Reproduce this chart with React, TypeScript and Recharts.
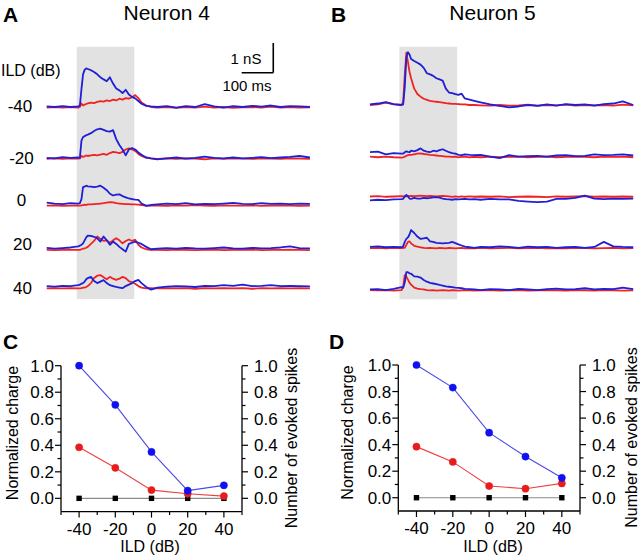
import React from 'react';
import { LineChart, Line, XAxis, YAxis, ReferenceArea, ReferenceLine } from 'recharts';

const FONT = '"Liberation Sans", Arial, Helvetica, sans-serif';
const TRACE_BLUE = '#1f1fd8';
const TRACE_RED = '#f02222';
const PT_BLUE = '#1010f0';
const LN_BLUE = '#4a4ae6';
const PT_RED = '#e81c1c';
const LN_RED = '#ee4040';

// ---- Time base of the conductance traces (ms) ----
const timeMs = [0, 25, 50, 75, 100, 105, 110, 115, 120, 125, 130, 140, 150, 160, 170, 180, 190, 200, 210, 220, 230, 240, 250, 260, 270, 280, 290, 300, 315, 330, 350, 380, 410, 440, 470, 500, 530, 560, 590, 620, 650, 680, 710, 740, 770, 800, 833];
const ildLevels = [-40, -20, 0, 20, 40];
const ildLabels = ['-40', '-20', '0', '20', '40'];

// ---- Neuron 4 traces (nS) ----
const n4BlueM40 = [0.02, 0.0, 0.03, 0.0, 0.02, 0.05, 0.6, 1.1, 1.25, 1.3, 1.28, 1.24, 1.18, 1.1, 1.0, 0.93, 0.87, 1.0, 0.79, 0.62, 0.56, 0.47, 0.58, 0.42, 0.34, 0.29, 0.2, 0.11, 0.04, 0.02, 0.0, 0.03, -0.02, 0.03, 0.0, 0.1, 0.02, -0.02, 0.03, 0.0, 0.04, 0.01, 0.05, 0.0, 0.03, 0.02, 0.0];
const n4RedM40 = [-0.02, 0.0, -0.02, 0.0, -0.02, 0.0, 0.12, 0.05, 0.08, 0.1, 0.12, 0.15, 0.13, 0.17, 0.2, 0.18, 0.22, 0.2, 0.25, 0.22, 0.28, 0.25, 0.3, 0.28, 0.33, 0.4, 0.3, 0.15, 0.05, 0.0, -0.02, 0.0, -0.03, 0.0, -0.02, 0.01, -0.02, 0.0, -0.03, -0.01, 0.0, -0.02, 0.01, -0.02, 0.0, -0.02, -0.01];
const n4BlueM20 = [0.02, 0.0, 0.04, 0.02, 0.03, 0.02, 0.6, 0.72, 0.75, 0.78, 0.8, 0.85, 0.92, 0.98, 1.0, 0.96, 0.92, 0.9, 0.95, 0.65, 0.45, 0.3, 0.1, 0.3, 0.35, 0.3, 0.2, 0.12, 0.03, 0.0, -0.03, 0.0, 0.03, -0.01, 0.02, 0.06, 0.02, 0.0, 0.03, 0.0, 0.02, 0.04, 0.01, 0.03, 0.05, 0.08, 0.03];
const n4RedM20 = [-0.02, 0.0, -0.02, 0.0, -0.01, 0.0, 0.08, 0.05, 0.07, 0.1, 0.08, 0.1, 0.12, 0.1, 0.13, 0.15, 0.12, 0.18, 0.22, 0.2, 0.18, 0.22, 0.3, 0.34, 0.3, 0.25, 0.15, 0.08, 0.02, 0.0, -0.02, 0.0, -0.02, 0.0, -0.01, -0.03, 0.0, -0.02, 0.0, -0.01, -0.02, 0.0, -0.01, -0.02, 0.0, -0.01, -0.02];
const n4Blue0 = [0.08, 0.05, 0.03, 0.06, 0.05, 0.06, 0.2, 0.6, 0.62, 0.65, 0.63, 0.62, 0.6, 0.62, 0.65, 0.58, 0.5, 0.38, 0.32, 0.35, 0.36, 0.3, 0.26, 0.22, 0.2, 0.18, 0.17, 0.05, -0.03, 0.0, 0.02, 0.05, 0.03, 0.06, 0.02, 0.04, 0.03, 0.05, 0.07, 0.04, 0.03, 0.06, 0.04, 0.05, 0.03, 0.05, 0.04];
const n4Red0 = [-0.02, -0.01, -0.03, -0.02, -0.02, -0.02, -0.01, 0.0, 0.01, 0.0, 0.02, 0.02, 0.03, 0.04, 0.05, 0.06, 0.08, 0.1, 0.09, 0.06, 0.05, 0.04, 0.03, 0.03, 0.02, 0.02, 0.01, 0.0, -0.02, -0.01, -0.02, -0.03, -0.01, -0.02, 0.0, -0.02, -0.03, -0.01, -0.02, -0.02, -0.01, -0.03, -0.02, -0.01, -0.02, -0.03, -0.02];
const n4Blue20 = [0.05, 0.02, 0.04, 0.06, 0.1, 0.12, 0.15, 0.2, 0.3, 0.4, 0.46, 0.45, 0.42, 0.37, 0.26, 0.43, 0.3, 0.15, 0.26, 0.18, 0.08, 0.0, -0.08, 0.18, 0.22, 0.26, 0.22, 0.18, 0.08, 0.0, 0.02, 0.04, 0.02, 0.05, 0.03, 0.02, 0.04, 0.06, 0.03, 0.02, 0.05, 0.03, 0.04, 0.06, 0.1, 0.04, 0.03];
const n4Red20 = [-0.02, -0.03, -0.02, -0.01, -0.02, -0.02, 0.0, 0.02, 0.03, 0.05, 0.08, 0.18, 0.28, 0.43, 0.35, 0.28, 0.3, 0.22, 0.3, 0.37, 0.3, 0.2, 0.28, 0.33, 0.28, 0.32, 0.15, 0.06, 0.0, -0.02, -0.02, -0.03, -0.01, -0.02, -0.03, -0.02, -0.01, -0.03, -0.02, -0.02, -0.01, -0.03, -0.02, -0.02, -0.01, -0.02, -0.03];
const n4Blue40 = [0.05, 0.03, 0.06, 0.05, 0.08, 0.1, 0.13, 0.15, 0.2, 0.28, 0.32, 0.36, 0.22, 0.15, 0.2, 0.25, 0.15, 0.08, 0.05, 0.02, 0.0, -0.02, 0.05, 0.1, 0.15, 0.22, 0.26, 0.15, 0.02, -0.07, 0.0, 0.03, 0.05, 0.04, 0.02, 0.06, 0.05, 0.08, 0.06, 0.1, 0.05, 0.06, 0.08, 0.05, 0.06, 0.05, 0.04];
const n4Red40 = [-0.03, -0.02, -0.03, -0.02, -0.03, -0.03, -0.02, 0.0, 0.0, 0.02, 0.05, 0.15, 0.32, 0.4, 0.42, 0.35, 0.28, 0.36, 0.3, 0.26, 0.3, 0.36, 0.32, 0.22, 0.18, 0.13, 0.05, 0.0, -0.03, -0.02, -0.03, -0.02, -0.03, -0.02, -0.04, -0.02, -0.03, -0.02, -0.03, -0.02, -0.04, -0.02, -0.03, -0.02, -0.03, -0.02, -0.03];

// ---- Neuron 5 traces (nS) ----
const n5BlueM40 = [0.02, 0.05, 0.1, 0.03, 0.0, 0.02, 0.6, 1.6, 1.78, 1.7, 1.55, 1.48, 1.42, 1.36, 1.25, 1.07, 1.03, 0.98, 0.9, 0.86, 0.82, 0.55, 0.42, 0.4, 0.37, 0.34, 0.38, 0.22, 0.18, 0.14, 0.09, 0.02, -0.03, -0.08, -0.05, 0.0, -0.03, 0.02, -0.02, 0.03, 0.0, 0.02, -0.02, 0.03, 0.05, 0.12, 0.0];
const n5RedM40 = [0.0, 0.02, 0.08, 0.02, 0.0, 0.1, 1.0, 1.76, 1.45, 1.12, 0.9, 0.55, 0.37, 0.28, 0.21, 0.17, 0.14, 0.12, 0.11, 0.1, 0.08, 0.06, 0.05, 0.04, 0.04, 0.03, 0.02, 0.02, 0.0, 0.0, -0.01, -0.02, 0.0, -0.02, -0.01, 0.01, -0.02, 0.0, -0.01, 0.01, -0.02, 0.0, -0.01, 0.0, -0.02, 0.01, -0.01];
const n5BlueM20 = [0.15, 0.17, 0.08, 0.12, 0.1, 0.1, 0.15, 0.18, 0.16, 0.15, 0.2, 0.18, 0.22, 0.28, 0.2, 0.17, 0.15, 0.2, 0.18, 0.22, 0.25, 0.2, 0.15, 0.12, 0.1, 0.06, 0.05, 0.08, 0.06, 0.05, 0.06, 0.0, -0.05, 0.05, 0.0, 0.02, 0.03, 0.0, 0.04, 0.05, 0.02, 0.03, 0.08, 0.05, 0.06, 0.08, 0.04];
const n5RedM20 = [0.0, -0.02, 0.0, -0.02, -0.03, -0.02, 0.0, 0.03, 0.05, 0.06, 0.06, 0.08, 0.1, 0.11, 0.09, 0.08, 0.06, 0.05, 0.04, 0.03, 0.02, 0.0, 0.0, -0.01, 0.0, -0.02, -0.01, 0.0, -0.02, -0.01, -0.02, 0.0, -0.02, -0.01, 0.0, -0.02, -0.01, 0.0, -0.02, -0.01, 0.0, -0.01, -0.02, 0.0, -0.01, 0.0, -0.02];
const n5Blue0 = [-0.08, -0.06, -0.07, -0.05, -0.04, -0.03, 0.05, 0.1, 0.05, -0.02, -0.03, 0.0, -0.02, -0.02, 0.0, -0.01, 0.0, 0.02, 0.03, 0.01, -0.02, -0.04, -0.05, -0.06, -0.04, -0.05, -0.04, -0.03, -0.05, -0.04, -0.06, -0.03, -0.05, -0.05, -0.1, -0.12, -0.14, -0.12, -0.03, -0.03, 0.0, 0.08, -0.02, -0.04, -0.02, -0.03, -0.02];
const n5Red0 = [0.05, 0.06, 0.04, 0.05, 0.06, 0.05, 0.06, 0.05, 0.07, 0.06, 0.07, 0.06, 0.07, 0.08, 0.07, 0.06, 0.07, 0.06, 0.05, 0.06, 0.07, 0.06, 0.05, 0.04, 0.05, 0.04, 0.05, 0.04, 0.05, 0.04, 0.05, 0.04, 0.05, 0.03, 0.04, 0.05, 0.04, 0.03, 0.05, 0.04, 0.05, 0.06, 0.04, 0.05, 0.04, 0.05, 0.04];
const n5Blue20 = [0.03, 0.05, 0.02, 0.03, 0.02, 0.05, 0.2, 0.3, 0.35, 0.45, 0.6, 0.5, 0.38, 0.3, 0.32, 0.34, 0.22, 0.2, 0.17, 0.16, 0.15, 0.16, 0.17, 0.2, 0.16, 0.12, 0.08, 0.04, 0.02, 0.0, 0.03, 0.02, 0.05, 0.03, 0.0, 0.04, 0.02, 0.03, 0.0, 0.02, 0.03, 0.0, 0.03, 0.2, 0.05, 0.03, 0.02];
const n5Red20 = [-0.01, 0.0, -0.02, 0.0, -0.01, 0.0, 0.0, 0.1, 0.2, 0.22, 0.15, 0.07, 0.04, 0.02, 0.0, -0.01, 0.0, -0.01, -0.02, 0.0, -0.01, -0.02, 0.0, -0.01, -0.02, -0.01, 0.0, -0.02, -0.01, -0.02, 0.0, -0.02, -0.01, 0.0, -0.02, -0.01, 0.0, -0.02, -0.01, -0.02, 0.0, -0.01, -0.02, -0.01, 0.0, -0.02, -0.01];
const n5Blue40 = [0.02, 0.03, 0.0, 0.04, 0.1, 0.08, 0.25, 0.6, 0.6, 0.56, 0.55, 0.46, 0.45, 0.42, 0.34, 0.28, 0.24, 0.22, 0.2, 0.17, 0.15, 0.12, 0.11, 0.1, 0.08, 0.07, 0.06, 0.04, 0.03, 0.02, 0.0, 0.03, 0.02, 0.0, 0.04, 0.02, 0.0, 0.03, 0.05, 0.02, 0.03, 0.06, 0.02, 0.04, 0.03, 0.08, 0.03];
const n5Red40 = [0.0, -0.01, 0.0, -0.02, 0.0, 0.1, 0.5, 0.45, 0.35, 0.25, 0.18, 0.08, 0.05, 0.03, 0.02, 0.0, -0.01, 0.0, -0.02, -0.01, 0.0, -0.01, -0.02, 0.0, -0.01, -0.02, -0.01, 0.0, -0.01, -0.02, -0.01, 0.0, -0.02, -0.01, 0.0, -0.02, -0.01, 0.0, -0.01, -0.02, 0.0, -0.01, -0.02, 0.0, -0.01, -0.02, -0.01];

// vertical stacking offsets of the rows (nS)
const n4RowOffsets = [0, -1.73, -3.3, -4.79, -6.08];
const n5RowOffsets = [0, -1.74, -3.13, -4.81, -6.23];
// stimulus window (ms)
const n4Stim = [95, 277];
const n5Stim = [93, 276];

// ---- Panels C and D ----
const ildDb = [-40, -20, 0, 20, 40];
const cChargeBlue = [1.0, 0.705, 0.35, 0.058, 0.098];
const cChargeRed = [0.385, 0.23, 0.062, 0.035, 0.017];
const cSpikes = [0, 0, 0, 0, 0];
const dChargeBlue = [1.0, 0.83, 0.49, 0.31, 0.15];
const dChargeRed = [0.385, 0.27, 0.088, 0.068, 0.108];
const dSpikes = [0, 0, 0, 0, 0];
const xTicks = [-50, -40, -30, -20, -10, 0, 10, 20, 30, 40, 50];
const yTicks = [0, 0.1, 0.2, 0.3, 0.4, 0.5, 0.6, 0.7, 0.8, 0.9, 1.0];

function buildTraceTable(blues: number[][], reds: number[][], offsets: number[]) {
  return timeMs.map((t, i) => {
    const row: any = { t };
    blues.forEach((b, k) => { row['b' + k] = offsets[k] + b[i]; });
    reds.forEach((r, k) => { row['r' + k] = offsets[k] + r[i]; });
    return row;
  });
}

const n4Table = buildTraceTable(
  [n4BlueM40, n4BlueM20, n4Blue0, n4Blue20, n4Blue40],
  [n4RedM40, n4RedM20, n4Red0, n4Red20, n4Red40],
  n4RowOffsets
);
const n5Table = buildTraceTable(
  [n5BlueM40, n5BlueM20, n5Blue0, n5Blue20, n5Blue40],
  [n5RedM40, n5RedM20, n5Red0, n5Red20, n5Red40],
  n5RowOffsets
);

const PX_PER_MS = 0.316;
const PX_PER_NS = 29.7;
const Y_DOMAIN: [number, number] = [-6.6, 2.3];
const PLOT_W = 833 * PX_PER_MS;
const PLOT_H = (Y_DOMAIN[1] - Y_DOMAIN[0]) * PX_PER_NS;

function TracePanel(props: { left: number; plotLeft: number; baseline0: number; data: any[]; stim: number[]; boxTop: number; boxBottom: number; scaleBar?: boolean }) {
  const { left, plotLeft, baseline0, data, stim, boxTop, boxBottom, scaleBar } = props;
  const top = baseline0 - Y_DOMAIN[1] * PX_PER_NS;
  const h = 310;
  const w = 320;
  const y1 = (baseline0 - boxBottom) / PX_PER_NS;
  const y2 = (baseline0 - boxTop) / PX_PER_NS;
  return (
    <div style={{ position: 'absolute', left, top: 0 }}>
      <LineChart width={w} height={h} data={data}
        margin={{ top, left: plotLeft, right: w - plotLeft - PLOT_W, bottom: h - top - PLOT_H }}>
        <XAxis type="number" dataKey="t" domain={[0, 833]} hide />
        <YAxis type="number" domain={Y_DOMAIN} hide />
        <ReferenceArea x1={stim[0]} x2={stim[1]} y1={y1} y2={y2} fill="#e2e2e2" fillOpacity={1} stroke="none" ifOverflow="visible" />
        {[0, 1, 2, 3, 4].map((k) => (
          <Line key={'r' + k} type="linear" dataKey={'r' + k} stroke={TRACE_RED} strokeWidth={1.8} strokeLinejoin="round" dot={false} isAnimationActive={false} />
        ))}
        {[0, 1, 2, 3, 4].map((k) => (
          <Line key={'b' + k} type="linear" dataKey={'b' + k} stroke={TRACE_BLUE} strokeWidth={1.8} strokeLinejoin="round" dot={false} isAnimationActive={false} />
        ))}
        {scaleBar && (
          <ReferenceLine segment={[{ x: 617, y: 1.155 }, { x: 717, y: 1.155 }]} stroke="#000" strokeWidth={1.6} ifOverflow="visible" />
        )}
        {scaleBar && (
          <ReferenceLine segment={[{ x: 717, y: 1.155 }, { x: 717, y: 2.155 }]} stroke="#000" strokeWidth={1.6} ifOverflow="visible" />
        )}
      </LineChart>
    </div>
  );
}

const XTick = (props: any) => {
  const { x, y, payload } = props;
  const v = payload.value;
  const major = v % 20 === 0 && Math.abs(v) <= 40;
  return (
    <g>
      <line x1={x} x2={x} y1={y} y2={y + (major ? 6 : 3.5)} stroke="#000" strokeWidth={1.2} />
      {major && (
        <text x={x} y={y + 23} textAnchor="middle" fontSize={17} fontFamily={FONT} fill="#000">{String(v)}</text>
      )}
    </g>
  );
};

const LeftTick = (props: any) => {
  const { x, y, payload } = props;
  const v = payload.value;
  const major = Math.round(v * 10) % 2 === 0;
  return (
    <g>
      <line x1={x - (major ? 6 : 3.5)} x2={x} y1={y} y2={y} stroke="#000" strokeWidth={1.2} />
      {major && (
        <text x={x - 7} y={y + 6} textAnchor="end" fontSize={17} fontFamily={FONT} fill="#000">{v.toFixed(1)}</text>
      )}
    </g>
  );
};

const RightTick = (props: any) => {
  const { x, y, payload } = props;
  const v = payload.value;
  const major = Math.round(v * 10) % 2 === 0;
  return (
    <g>
      <line x1={x} x2={x + (major ? 6 : 3.5)} y1={y} y2={y} stroke="#000" strokeWidth={1.2} />
      {major && (
        <text x={x + 12} y={y + 6} textAnchor="start" fontSize={17} fontFamily={FONT} fill="#000">{v.toFixed(1)}</text>
      )}
    </g>
  );
};

const SquareDot = (p: any) => (
  <rect key={'sq' + p.index} x={p.cx - 2.7} y={p.cy - 2.7} width={5.4} height={5.4} fill="#000" />
);

function SummaryPanel(props: { left: number; plotLeft: number; plotRight: number; plotTop: number; plotBottom: number; blue: number[]; red: number[]; spikes: number[] }) {
  const { left, plotLeft, plotRight, plotTop, plotBottom, blue, red, spikes } = props;
  const w = 320;
  const h = 237;
  const data = ildDb.map((ild, i) => ({ ild, blue: blue[i], red: red[i], spikes: spikes[i] }));
  const axisW = 30;
  const axisH = 30;
  const axisLine = { stroke: '#000', strokeWidth: 1.3 };
  return (
    <div style={{ position: 'absolute', left, top: 320 }}>
      <LineChart width={w} height={h} data={data}
        margin={{ top: plotTop, left: plotLeft - axisW, right: w - plotRight - axisW, bottom: h - plotBottom - axisH }}>
        <XAxis type="number" dataKey="ild" domain={[-50, 50]} ticks={xTicks} interval={0} height={axisH}
          tickSize={0} tickMargin={0} tickLine={false} axisLine={axisLine} tick={<XTick />} />
        <YAxis yAxisId="left" type="number" domain={[-0.1, 1.0]} ticks={yTicks} interval={0} width={axisW}
          tickSize={0} tickMargin={0} tickLine={false} axisLine={axisLine} tick={<LeftTick />} />
        <YAxis yAxisId="right" orientation="right" type="number" domain={[-0.1, 1.0]} ticks={yTicks} interval={0} width={axisW}
          tickSize={0} tickMargin={0} tickLine={false} axisLine={axisLine} tick={<RightTick />} />
        <Line yAxisId="right" type="linear" dataKey="spikes" stroke="#8a8a8a" strokeWidth={1.2} dot={SquareDot} isAnimationActive={false} />
        <Line yAxisId="left" type="linear" dataKey="red" stroke={LN_RED} strokeWidth={1.1} dot={{ r: 3.6, fill: PT_RED, stroke: PT_RED, strokeWidth: 0.5 }} isAnimationActive={false} />
        <Line yAxisId="left" type="linear" dataKey="blue" stroke={LN_BLUE} strokeWidth={1.1} dot={{ r: 3.6, fill: PT_BLUE, stroke: PT_BLUE, strokeWidth: 0.5 }} isAnimationActive={false} />
      </LineChart>
    </div>
  );
}

export default function App() {
  const rowLabelY = [112, 163.5, 205.5, 250, 294];
  const rowLabelX = [20, 21.5, 21.5, 22.5, 22.5];
  return (
    <div style={{ position: 'absolute', left: 0, top: 0, width: 640, height: 557, background: '#fff', overflow: 'hidden', fontFamily: FONT }}>
      <TracePanel left={0} plotLeft={46.7} baseline0={107} data={n4Table} stim={n4Stim} boxTop={46.7} boxBottom={299} scaleBar />
      <TracePanel left={320} plotLeft={50} baseline0={105} data={n5Table} stim={n5Stim} boxTop={46.7} boxBottom={299.3} />
      <SummaryPanel left={0} plotLeft={61} plotRight={242} plotTop={45.7} plotBottom={191.6} blue={cChargeBlue} red={cChargeRed} spikes={cSpikes} />
      <SummaryPanel left={320} plotLeft={78.3} plotRight={260} plotTop={45} plotBottom={191} blue={dChargeBlue} red={dChargeRed} spikes={dSpikes} />
      <svg width={640} height={557} style={{ position: 'absolute', left: 0, top: 0, pointerEvents: 'none' }} fontFamily={FONT}>
        <text x={3} y={22} fontSize={21} fontWeight="bold">A</text>
        <text x={331} y={22} fontSize={21} fontWeight="bold">B</text>
        <text x={3} y={349} fontSize={21} fontWeight="bold">C</text>
        <text x={329} y={349} fontSize={21} fontWeight="bold">D</text>
        <text x={166.7} y={19.5} fontSize={21} textAnchor="middle">Neuron 4</text>
        <text x={492.5} y={19.5} fontSize={21} textAnchor="middle">Neuron 5</text>
        <text x={1} y={76} fontSize={16}>ILD (dB)</text>
        {ildLevels.map((lv, i) => (
          <text key={lv} x={rowLabelX[i]} y={rowLabelY[i]} fontSize={17} textAnchor="middle">{ildLabels[i]}</text>
        ))}
        <text x={246} y={64} fontSize={15} textAnchor="middle">1 nS</text>
        <text x={247} y={91} fontSize={15} textAnchor="middle">100 ms</text>
        <text transform="translate(12.5,433) rotate(-90)" fontSize={16} textAnchor="middle" dy="0.35em">Normalized charge</text>
        <text transform="translate(291.7,438) rotate(-90)" fontSize={16} textAnchor="middle" dy="0.35em">Number of evoked spikes</text>
        <text x={150} y={552} fontSize={16} textAnchor="middle">ILD (dB)</text>
        <text transform="translate(347.5,432.5) rotate(-90)" fontSize={16} textAnchor="middle" dy="0.35em">Normalized charge</text>
        <text transform="translate(631.7,437.5) rotate(-90)" fontSize={16} textAnchor="middle" dy="0.35em">Number of evoked spikes</text>
        <text x={493} y={552} fontSize={16} textAnchor="middle">ILD (dB)</text>
      </svg>
    </div>
  );
}
